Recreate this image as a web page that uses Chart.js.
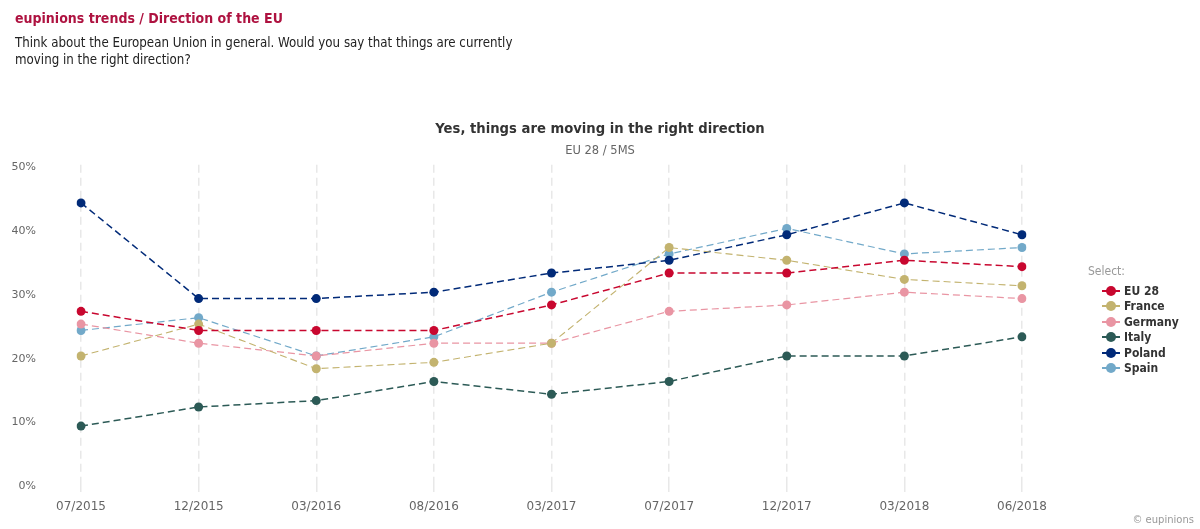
<!DOCTYPE html>
<html>
<head>
<meta charset="utf-8">
<script src="https://cdn.jsdelivr.net/npm/chart.js@4.4.1/dist/chart.umd.min.js"></script>
<style>
  body { margin: 0; background: #fff; font-family: "DejaVu Sans", sans-serif; }
  #wrap { position: relative; width: 1200px; height: 529px; overflow: hidden; }
  #myChart { position: absolute; left: 0; top: 0; }
  .head { position: absolute; left: 15px; top: 10px; font-family: "DejaVu Sans Condensed", "DejaVu Sans", sans-serif; font-size: 14px; font-weight: bold; color: #ae1240; }
  .sub { position: absolute; left: 15px; top: 34px; width: 520px; font-family: "DejaVu Sans Condensed", "DejaVu Sans", sans-serif; font-size: 13.2px; line-height: 17px; color: #222; }
  #legend { position: absolute; left: 1088px; top: 264px; font-size: 12px; font-family: "DejaVu Sans Condensed", "DejaVu Sans", sans-serif; }
  #legend .ttl { color: #999; margin-bottom: 6px; }
  #legend .item { height: 15.4px; line-height: 15.4px; padding-left: 14px; font-weight: bold; color: #333; white-space: nowrap; }
  #legend .mk { display: inline-block; position: relative; width: 18px; height: 10px; margin-right: 4px; vertical-align: -1px; }
  #legend .mk i { position: absolute; left: 0; top: 4px; width: 18px; height: 2px; }
  #legend .mk b { position: absolute; left: 4px; top: 0; width: 10px; height: 10px; border-radius: 50%; }
  .credit { position: absolute; right: 6px; bottom: 4px; font-size: 10px; color: #999; }
</style>
</head>
<body>
<div id="wrap">
  <canvas id="myChart" width="1200" height="526"></canvas>
  <div class="head">eupinions trends / Direction of the EU</div>
  <div class="sub">Think about the European Union in general. Would you say that things are currently moving in the right direction?</div>
  <div id="legend"></div>
  <div class="credit">© eupinions</div>
</div>
<script>
const labels = ['07/2015', '12/2015', '03/2016', '08/2016', '03/2017', '07/2017', '12/2017', '03/2018', '06/2018'];
const eu28 = [27, 24, 24, 24, 28, 33, 33, 35, 34];
const france = [20, 25, 18, 19, 22, 37, 35, 32, 31];
const germany = [25, 22, 20, 22, 22, 27, 28, 30, 29];
const italy = [9, 12, 13, 16, 14, 16, 20, 20, 23];
const poland = [44, 29, 29, 30, 33, 35, 39, 44, 39];
const spain = [24, 26, 20, 23, 30, 36, 40, 36, 37];
const yTicks = [0, 10, 20, 30, 40, 50];

const series = [
  { label: 'EU 28', data: eu28, color: '#c8072f', width: 1.5 },
  { label: 'France', data: france, color: '#c3b36f', width: 1.1 },
  { label: 'Germany', data: germany, color: '#e995a3', width: 1.2 },
  { label: 'Italy', data: italy, color: '#2c5a56', width: 1.5 },
  { label: 'Poland', data: poland, color: '#012a78', width: 1.5 },
  { label: 'Spain', data: spain, color: '#72a9c9', width: 1.2 },
];

const datasets = series.map((s) => ({
  label: s.label,
  data: s.data,
  borderColor: s.color,
  backgroundColor: s.color,
  pointBackgroundColor: s.color,
  pointBorderWidth: 0,
  pointRadius: 4.5,
  borderWidth: s.width,
  borderDash: [7, 4],
  tension: 0,
}));

// legend built by hand, it sits on the right
const legend = document.getElementById('legend');
legend.innerHTML = '<div class="ttl">Select:</div>' + series.map((s) =>
  `<div class="item"><span class="mk"><i style="background:${s.color}"></i><b style="background:${s.color}"></b></span>${s.label}</div>`
).join('');

const ctx = document.getElementById('myChart').getContext('2d');
const myChart = new Chart(ctx, {
  type: 'line',
  data: { labels: labels, datasets: datasets },
  options: {
    responsive: false,
    animation: false,
    layout: { padding: { top: 118, right: 0, bottom: 0, left: 0 } },
    scales: {
      x: {
        offset: false,
        grid: { display: true, color: '#e8e8e8', lineWidth: 1.5, drawTicks: true, tickLength: 9, tickColor: '#e8e8e8', tickBorderDash: [8, 5] },
        border: { display: false, dash: [8, 5] },
        ticks: { color: '#666', font: { family: 'DejaVu Sans', size: 12 }, padding: 7, maxRotation: 0 },
      },
      y: {
        min: 0,
        max: 50,
        afterFit: (scale) => { scale.width = 81; },
        afterBuildTicks: (scale) => { scale.ticks = yTicks.map((v) => ({ value: v })); },
        grid: { display: false },
        border: { display: false },
        // empty first line nudges each label a few px below its value, like the original
        ticks: { color: '#666', font: { family: 'DejaVu Sans', size: 11, lineHeight: 0.5 }, padding: 37, callback: (v) => ['', v + '%'] },
      },
      // empty right axis, keeps room for the legend so the title stays centred on the page
      yRight: {
        position: 'right',
        min: 0,
        max: 50,
        afterFit: (scale) => { scale.width = 178; },
        grid: { display: false },
        border: { display: false },
        ticks: { display: false },
      },
    },
    plugins: {
      legend: { display: false },
      tooltip: { enabled: false },
      title: {
        display: true,
        text: 'Yes, things are moving in the right direction',
        color: '#333',
        font: { family: 'DejaVu Sans', size: 13.2, weight: 'bold' },
        padding: { top: 4, bottom: 4 },
      },
      subtitle: {
        display: true,
        text: 'EU 28 / 5MS',
        color: '#666',
        font: { family: 'DejaVu Sans', size: 11.5 },
        padding: { top: 2, bottom: 7 },
      },
    },
  },
});
</script>
</body>
</html>
